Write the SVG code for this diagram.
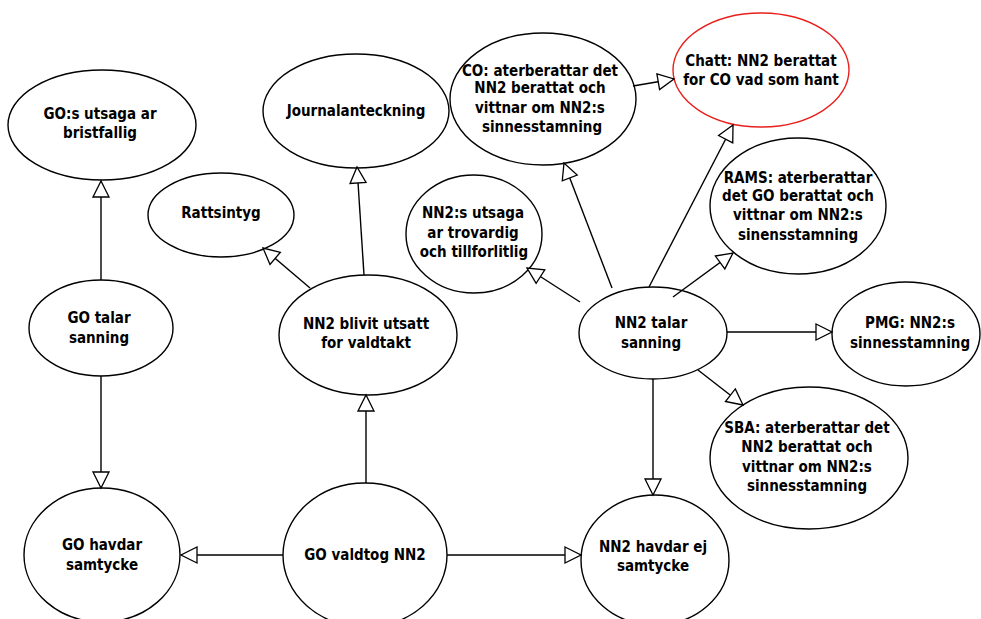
<svg xmlns="http://www.w3.org/2000/svg" width="981" height="619" viewBox="0 0 981 619">
<style>
.n ellipse{fill:#fff;stroke:#000;stroke-width:1.4}
.n.red ellipse{stroke:#e8201c}
.n text{font-family:"DejaVu Sans Condensed","DejaVu Sans",sans-serif;font-weight:bold;font-size:15px;fill:#000;text-anchor:middle}
.c line{stroke:#000;stroke-width:1.4;fill:none;marker-end:url(#tri)}
</style>
<defs>
<marker id="tri" viewBox="-1 -1 18 18" markerWidth="18" markerHeight="18" refX="16" refY="8" orient="auto" markerUnits="userSpaceOnUse" overflow="visible">
<path d="M0,0 L16,8 L0,16 Z" fill="#fff" stroke="#000" stroke-width="1.3"/>
</marker>
</defs>
<rect width="981" height="619" fill="#fff"/>
<g id="n-go-utsaga" class="n"><ellipse cx="102" cy="125" rx="94" ry="55"/><text x="100" y="119">GO:s utsaga ar</text><text x="100" y="138">bristfallig</text></g>
<g id="n-journal" class="n"><ellipse cx="356" cy="111" rx="93" ry="57"/><text x="356" y="116">Journalanteckning</text></g>
<g id="n-ratts" class="n"><ellipse cx="221" cy="215" rx="73" ry="42"/><text x="221" y="218">Rattsintyg</text></g>
<g id="n-nn2-utsaga" class="n"><ellipse cx="474" cy="234" rx="68" ry="59"/><text x="473" y="218">NN2:s utsaga</text><text x="473" y="238">ar trovardig</text><text x="474" y="257">och tillforlitlig</text></g>
<g id="n-co" class="n"><ellipse cx="543" cy="99" rx="93" ry="66"/><text x="540" y="76">CO: aterberattar det</text><text x="540" y="93">NN2 berattat och</text><text x="540" y="113">vittnar om NN2:s</text><text x="542" y="132">sinnesstamning</text></g>
<g id="n-chatt" class="n red"><ellipse cx="761" cy="70" rx="88" ry="57"/><text x="761" y="66">Chatt: NN2 berattat</text><text x="761" y="85">for CO vad som hant</text></g>
<g id="n-rams" class="n"><ellipse cx="798" cy="206" rx="88" ry="68"/><text x="798" y="183">RAMS: aterberattar</text><text x="798" y="201">det GO berattat och</text><text x="798" y="220">vittnar om NN2:s</text><text x="798" y="240">sinensstamning</text></g>
<g id="n-go-talar" class="n"><ellipse cx="101" cy="328" rx="72" ry="48"/><text x="99" y="323">GO talar</text><text x="99" y="343">sanning</text></g>
<g id="n-nn2-blivit" class="n"><ellipse cx="368" cy="335" rx="89" ry="60"/><text x="366" y="329">NN2 blivit utsatt</text><text x="366" y="348">for valdtakt</text></g>
<g id="n-nn2-talar" class="n"><ellipse cx="653" cy="333" rx="74" ry="46"/><text x="651" y="328">NN2 talar</text><text x="651" y="348">sanning</text></g>
<g id="n-pmg" class="n"><ellipse cx="906" cy="334" rx="74" ry="52"/><text x="910" y="328">PMG: NN2:s</text><text x="910" y="348">sinnesstamning</text></g>
<g id="n-sba" class="n"><ellipse cx="809" cy="458" rx="99" ry="71"/><text x="807" y="433">SBA: aterberattar det</text><text x="807" y="452">NN2 berattat och</text><text x="807" y="472">vittnar om NN2:s</text><text x="807" y="491">sinnesstamning</text></g>
<g id="n-go-havdar" class="n"><ellipse cx="102" cy="555" rx="78" ry="67"/><text x="102" y="550">GO havdar</text><text x="102" y="570">samtycke</text></g>
<g id="n-go-valdtog" class="n"><ellipse cx="365" cy="555" rx="82" ry="72"/><text x="365" y="560">GO valdtog NN2</text></g>
<g id="n-nn2-havdar" class="n"><ellipse cx="655" cy="560" rx="74" ry="65"/><text x="653" y="552">NN2 havdar ej</text><text x="653" y="571">samtycke</text></g>
<g id="connectors" class="c">
<line x1="101" y1="280" x2="101" y2="181"/>
<line x1="101" y1="376" x2="101" y2="488"/>
<line x1="283" y1="555" x2="181" y2="555"/>
<line x1="447" y1="555" x2="581" y2="555"/>
<line x1="366" y1="483" x2="366" y2="395"/>
<line x1="310" y1="288" x2="263" y2="248"/>
<line x1="364" y1="275" x2="357" y2="167"/>
<line x1="580" y1="302" x2="527" y2="268"/>
<line x1="612" y1="288" x2="564" y2="163"/>
<line x1="649" y1="287" x2="733" y2="125"/>
<line x1="673" y1="297" x2="733" y2="253"/>
<line x1="633" y1="86" x2="674" y2="79"/>
<line x1="727" y1="332" x2="832" y2="332"/>
<line x1="698" y1="370" x2="743" y2="405"/>
<line x1="653" y1="379" x2="653" y2="495"/>
</g>
</svg>
